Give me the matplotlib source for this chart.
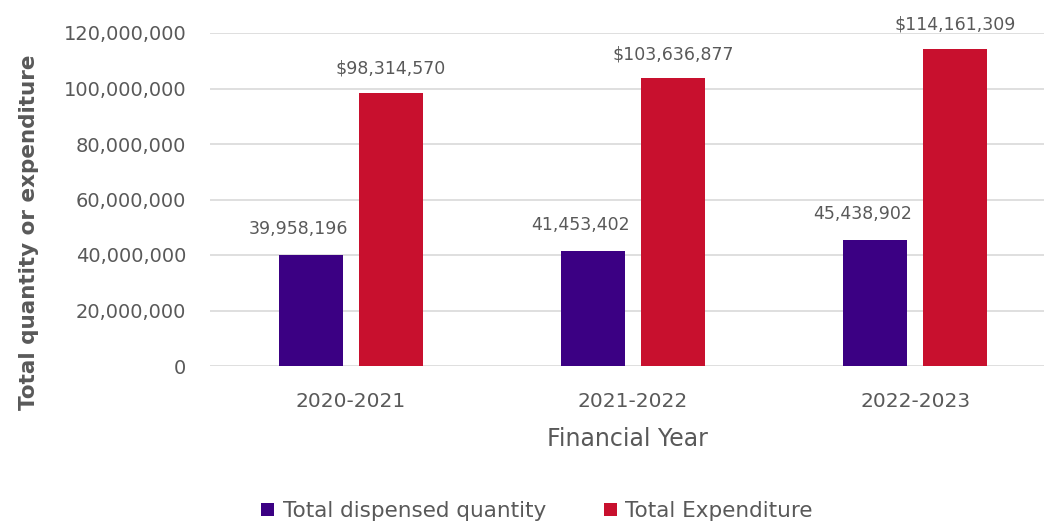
import numpy as np
import matplotlib.pyplot as plt
from matplotlib.ticker import FuncFormatter

years = ['2020-2021', '2021-2022', '2022-2023']
dispensed = [39958196, 41453402, 45438902]
expenditure = [98314570, 103636877, 114161309]

purple = '#3b0083'
red = '#c8102e'
grey = '#595959'

plt.rcParams['font.family'] = ['DejaVu Sans']

fig = plt.figure(figsize=(10.44, 5.22), dpi=100)
ax = fig.add_axes([210/1044, 1 - 366/522, 834/1044, 333/522])

x = np.arange(len(years))
w = 0.227
off = 0.142
b1 = ax.bar(x - off, dispensed, w, color=purple, label='Total dispensed quantity', zorder=3)
b2 = ax.bar(x + off, expenditure, w, color=red, label='Total Expenditure', zorder=3)

# value labels (Excel puts the quantity labels a little to the left)
for xi, v in zip(x, dispensed):
    ax.text(xi - off - 0.045, v + 6e6, f'{v:,}', ha='center', va='bottom',
            fontsize=12.5, color=grey, clip_on=False)
for xi, v in zip(x, expenditure):
    ax.text(xi + off, v + 5.5e6, f'${v:,}', ha='center', va='bottom',
            fontsize=12.5, color=grey, clip_on=False)

ax.set_xlim(-0.5, 2.457)
ax.set_ylim(0, 120000000)
ax.set_yticks(np.arange(0, 120000001, 20000000))
ax.yaxis.set_major_formatter(FuncFormatter(lambda v, p: f'{int(v):,}'))
ax.set_xticks(x)
ax.set_xticklabels(years)

ax.grid(axis='y', color='#d9d9d9', linewidth=1.2, zorder=0)
for s in ax.spines.values():
    s.set_visible(False)
ax.tick_params(axis='both', length=0, colors=grey)
ax.tick_params(axis='y', pad=17, labelsize=14)
ax.tick_params(axis='x', pad=19, labelsize=14.5)

ax.set_ylabel('Total quantity or expenditure', fontsize=15.5, fontweight='bold',
              color=grey)
ax.yaxis.set_label_coords(-0.205, 0.402)
ax.set_xlabel('Financial Year', fontsize=17, color=grey, labelpad=11)

fig.legend(handles=[b1, b2], loc='center', bbox_to_anchor=(537/1044, 1 - 511/522),
           ncol=2, frameon=False, fontsize=15.5, handlelength=0.6, handleheight=0.6,
           handletextpad=0.4, columnspacing=2.7, labelcolor=grey)

fig.savefig('out.png', dpi=100)
